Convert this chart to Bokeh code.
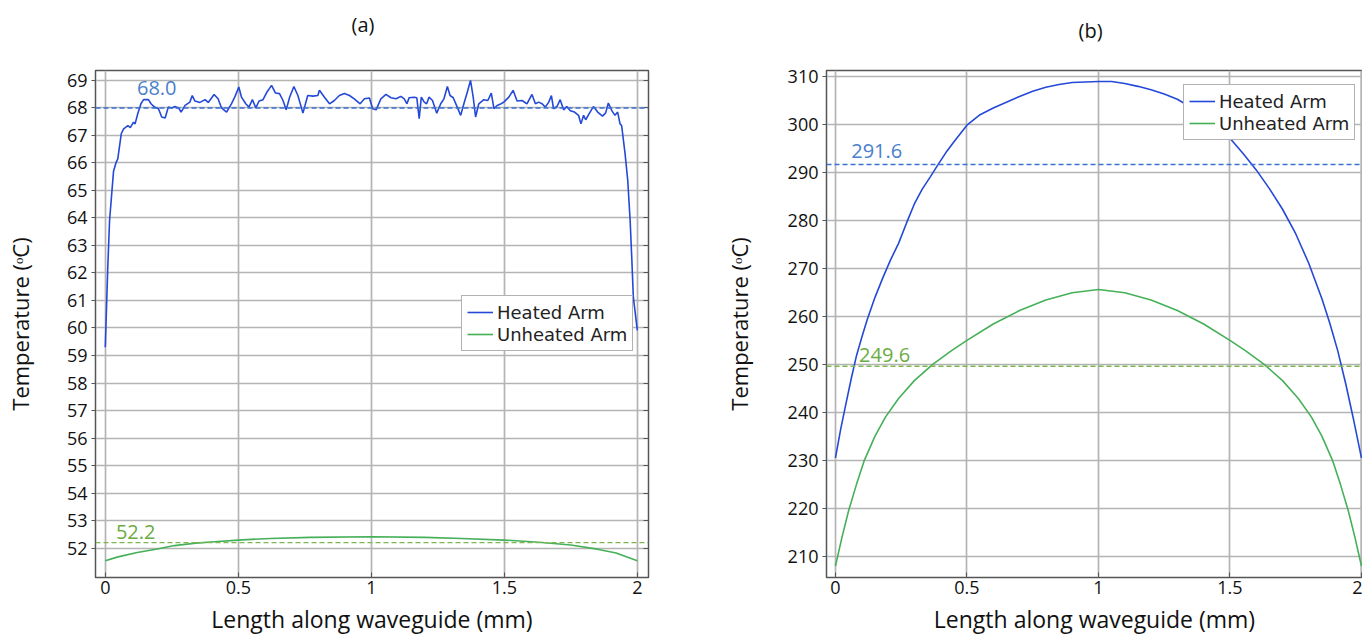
from bokeh.plotting import figure
from bokeh.models import Range1d, FixedTicker, LinearAxis, Span, Label, Legend, LegendItem, Title
from bokeh.layouts import row
from bokeh.embed import file_html
from bokeh.resources import INLINE

# ---------------- data ----------------
x_ticks = [0, 0.5, 1, 1.5, 2]
x_tick_labels = {0: "0", 0.5: "0.5", 1: "1", 1.5: "1.5", 2: "2"}
y_ticks_a = list(range(52, 70))
y_ticks_b = list(range(210, 311, 10))
panel_titles = ["(a)", "(b)"]

heated_a_x = [0.000, 0.009, 0.016, 0.031, 0.040, 0.047, 0.060, 0.069, 0.085, 0.094, 0.106, 0.112, 0.122, 0.134,
              0.144, 0.162, 0.172, 0.185, 0.200, 0.212, 0.225, 0.237, 0.250, 0.262, 0.275, 0.285, 0.300, 0.318,
              0.327, 0.337, 0.356, 0.375, 0.387, 0.409, 0.424, 0.437, 0.456, 0.474, 0.487, 0.502, 0.512, 0.528,
              0.540, 0.553, 0.566, 0.578, 0.593, 0.608, 0.625, 0.640, 0.655, 0.668, 0.680, 0.693, 0.709, 0.724,
              0.743, 0.761, 0.780, 0.799, 0.805, 0.824, 0.843, 0.861, 0.880, 0.899, 0.918, 0.936, 0.958, 0.974,
              0.993, 1.005, 1.018, 1.036, 1.055, 1.074, 1.093, 1.111, 1.124, 1.134, 1.142, 1.161, 1.171, 1.180,
              1.188, 1.199, 1.208, 1.217, 1.230, 1.246, 1.261, 1.273, 1.286, 1.296, 1.308, 1.323, 1.336, 1.348,
              1.361, 1.373, 1.383, 1.392, 1.404, 1.423, 1.438, 1.451, 1.461, 1.473, 1.488, 1.498, 1.517, 1.533,
              1.548, 1.567, 1.585, 1.604, 1.617, 1.629, 1.642, 1.654, 1.667, 1.677, 1.685, 1.698, 1.710, 1.723,
              1.735, 1.748, 1.764, 1.779, 1.788, 1.798, 1.806, 1.819, 1.835, 1.851, 1.869, 1.881, 1.891, 1.904,
              1.916, 1.926, 1.935, 1.941, 1.954, 1.964, 1.973, 1.979, 1.985, 2.000]
heated_a_y = [59.30, 62.10, 63.90, 65.70, 66.00, 66.15, 67.06, 67.24, 67.36, 67.28, 67.48, 67.42, 67.79, 68.15,
              68.30, 68.30, 68.15, 68.03, 67.97, 67.67, 67.63, 68.03, 68.00, 68.05, 68.00, 67.85, 68.09, 68.21,
              68.45, 68.25, 68.20, 68.30, 68.20, 68.49, 68.33, 68.00, 67.85, 68.15, 68.40, 68.76, 68.39, 68.15,
              68.03, 68.30, 68.00, 68.25, 68.30, 68.58, 68.82, 68.54, 68.52, 68.27, 67.93, 68.39, 68.78, 68.45,
              67.81, 68.45, 68.43, 68.45, 68.64, 68.39, 68.15, 68.27, 68.45, 68.52, 68.45, 68.33, 68.15, 68.33,
              68.36, 67.97, 67.93, 68.33, 68.49, 68.37, 68.33, 68.42, 68.33, 68.15, 68.37, 68.39, 68.37, 67.61,
              68.39, 68.21, 68.15, 68.39, 68.27, 67.81, 68.15, 68.33, 68.78, 68.45, 68.37, 68.03, 67.73, 68.15,
              68.58, 69.00, 68.39, 67.67, 68.15, 68.30, 68.27, 68.54, 67.97, 68.09, 68.15, 68.21, 68.39, 68.64,
              68.25, 68.27, 68.15, 68.49, 68.15, 68.21, 68.15, 68.03, 68.21, 68.45, 67.97, 68.05, 68.30, 67.93,
              68.05, 67.90, 67.85, 67.73, 67.42, 67.73, 67.57, 67.79, 68.05, 67.85, 67.70, 67.82, 68.18, 67.90,
              67.73, 67.85, 67.42, 67.36, 66.33, 65.36, 63.91, 62.57, 61.12, 59.91]

unheated_a_x = [0.0, 0.048, 0.12, 0.19, 0.26, 0.34, 0.41, 0.5, 0.62, 0.77, 1.0, 1.2, 1.34, 1.5, 1.63, 1.75,
                1.85, 1.92, 2.0]
unheated_a_y = [51.54, 51.68, 51.84, 51.96, 52.09, 52.18, 52.23, 52.29, 52.35, 52.39, 52.41, 52.39, 52.35,
                52.29, 52.21, 52.11, 51.96, 51.82, 51.54]

heated_b_x = [0.00, 0.02, 0.04, 0.06, 0.08, 0.10, 0.12, 0.15, 0.18, 0.21, 0.24, 0.27, 0.30, 0.33, 0.36, 0.39,
              0.42, 0.45, 0.50, 0.55, 0.60, 0.65, 0.70, 0.75, 0.80, 0.85, 0.90, 0.95, 1.00, 1.05, 1.10, 1.15,
              1.20, 1.25, 1.30, 1.35, 1.40, 1.45, 1.50, 1.55, 1.60, 1.65, 1.70, 1.75, 1.80, 1.85, 1.88, 1.91,
              1.94, 1.97, 2.00]
heated_b_y = [230.5, 236.5, 241.8, 247.0, 251.8, 255.6, 259.2, 263.9, 268.0, 271.8, 275.2, 279.4, 283.4, 286.5,
              289.0, 291.6, 294.1, 296.3, 299.8, 302.0, 303.4, 304.6, 305.8, 306.9, 307.7, 308.3, 308.7, 308.8,
              308.9, 308.9, 308.5, 307.9, 307.2, 306.3, 305.2, 303.6, 301.9, 299.8, 297.1, 293.9, 290.5, 286.6,
              282.3, 277.2, 271.0, 263.6, 258.5, 252.8, 246.0, 238.5, 230.5]

unheated_b_x = [0.000, 0.025, 0.05, 0.08, 0.11, 0.15, 0.19, 0.24, 0.30, 0.37, 0.44, 0.50, 0.60, 0.70, 0.80,
                0.90, 1.00, 1.10, 1.20, 1.30, 1.40, 1.50, 1.56, 1.63, 1.70, 1.76, 1.81, 1.85, 1.89, 1.92, 1.95,
                1.975, 2.000]
unheated_b_y = [208.0, 214.0, 219.5, 225.0, 230.0, 235.0, 239.0, 242.9, 246.6, 250.0, 252.8, 255.0, 258.4,
                261.2, 263.4, 264.9, 265.6, 264.9, 263.4, 261.2, 258.4, 255.0, 252.8, 250.0, 246.6, 242.9,
                239.0, 235.0, 230.0, 225.0, 219.5, 214.0, 208.0]

mean_a = [68.0, 52.2]
mean_b = [291.6, 249.6]
series_names = ["Heated Arm", "Unheated Arm"]

# ---------------- styles ----------------
BLUE = "#2449d8"
GREEN = "#45b058"
BLUE_D = "#3d72d2"
GREEN_D = "#7cb74f"
BLUE_T = "#4a7fcc"
GREEN_T = "#6aac44"
FONT = "Open Sans"


def style(p, yticks, label_standoff):
    p.xaxis.ticker = FixedTicker(ticks=x_ticks)
    p.xaxis.major_label_overrides = x_tick_labels
    p.yaxis.ticker = FixedTicker(ticks=yticks)
    p.xgrid.ticker = FixedTicker(ticks=x_ticks)
    p.ygrid.ticker = FixedTicker(ticks=yticks)
    for g in (p.xgrid, p.ygrid):
        g.grid_line_color = "#b4b4b4"
        g.grid_line_width = 1.7
    for ax in (p.xaxis, p.yaxis):
        ax.major_label_text_font = FONT
        ax.major_label_text_font_size = "18px"
        ax.major_label_text_color = "#111111"
        ax.axis_label_text_font = FONT
        ax.axis_label_text_font_style = "normal"
        ax.axis_label_text_color = "#111111"
        ax.axis_line_color = "#555555"
        ax.major_tick_line_color = "#555555"
        ax.minor_tick_line_color = None
    p.yaxis.major_tick_in = 0
    p.yaxis.major_tick_out = 4
    p.xaxis.major_tick_in = 5
    p.xaxis.major_tick_out = 0
    p.xaxis.axis_label = "Length along waveguide (mm)"
    p.yaxis.axis_label = "Temperature (ᵒC)"
    p.xaxis.axis_label_text_font_size = "23px"
    p.yaxis.axis_label_text_font_size = "22px"
    p.xaxis.major_label_standoff = 3
    p.xaxis.axis_label_standoff = 6
    p.yaxis.major_label_standoff = 4
    p.yaxis.axis_label_standoff = label_standoff
    p.outline_line_color = "#555555"
    p.outline_line_width = 1.5


def add_title(p, text, spacer_standoff, offset):
    # spacer nearest to the frame, then the panel caption further out
    p.add_layout(Title(text=" ", text_font_size="10px", standoff=spacer_standoff), "above")
    p.add_layout(Title(text=text, align="left", offset=offset, text_font=FONT, text_font_size="20px",
                       text_font_style="normal", text_color="#111111", standoff=0), "above")


def add_legend(p, r1, r2, loc):
    leg = Legend(items=[LegendItem(label=series_names[0], renderers=[r1]),
                        LegendItem(label=series_names[1], renderers=[r2])],
                 location=loc)
    leg.label_text_font = "DejaVu Sans"
    leg.label_text_font_size = "18px"
    leg.label_text_color = "#222222"
    leg.glyph_width = 26
    leg.glyph_height = 22
    leg.label_height = 22
    leg.label_standoff = 4
    leg.spacing = 0
    leg.padding = 5
    leg.margin = 0
    leg.border_line_color = "#666666"
    leg.border_line_width = 1.2
    leg.background_fill_alpha = 1.0
    p.add_layout(leg, "center")


# ---------------- panel (a) ----------------
p1 = figure(width=720, height=637, x_range=Range1d(-0.0368, 2.042), y_range=Range1d(50.93, 69.36),
            min_border_left=95, min_border_right=72, min_border_top=70, min_border_bottom=60,
            output_backend="svg", toolbar_location=None)
style(p1, y_ticks_a, 29)
ax_r = LinearAxis(ticker=FixedTicker(ticks=y_ticks_a), major_label_text_font_size="0px",
                  major_tick_in=5, major_tick_out=0, axis_line_color="#555555",
                  major_tick_line_color="#555555", minor_tick_line_color=None)
p1.add_layout(ax_r, "right")

p1.add_layout(Span(location=mean_a[0], dimension="width", line_color=BLUE_D, line_dash="5 3", line_width=1.5))
p1.add_layout(Span(location=mean_a[1], dimension="width", line_color=GREEN_D, line_dash="5 3", line_width=1.3))
ra1 = p1.line(heated_a_x, heated_a_y, line_color=BLUE, line_width=1.6)
ra2 = p1.line(unheated_a_x, unheated_a_y, line_color=GREEN, line_width=1.6)
p1.add_layout(Label(x=0.119, y=mean_a[0], y_offset=20, text=f"{mean_a[0]:.1f}", text_color=BLUE_T,
                    text_font=FONT, text_font_size="20px", text_baseline="alphabetic"))
p1.add_layout(Label(x=0.04, y=mean_a[1], y_offset=11, text=f"{mean_a[1]:.1f}", text_color=GREEN_T,
                    text_font=FONT, text_font_size="20px", text_baseline="alphabetic"))
add_legend(p1, ra1, ra2, (366, 226))
add_title(p1, panel_titles[0], 20, 256)

# ---------------- panel (b) ----------------
p2 = figure(width=642, height=637, x_range=Range1d(-0.034, 2.004), y_range=Range1d(205.6, 311.2),
            min_border_left=100, min_border_right=0, min_border_top=68, min_border_bottom=60,
            output_backend="svg", toolbar_location=None)
style(p2, y_ticks_b, 31)
p2.add_layout(Span(location=mean_b[0], dimension="width", line_color=BLUE_D, line_dash="5 3", line_width=1.5))
p2.add_layout(Span(location=mean_b[1], dimension="width", line_color=GREEN_D, line_dash="5 3", line_width=1.3))
rb1 = p2.line(heated_b_x, heated_b_y, line_color=BLUE, line_width=1.6)
rb2 = p2.line(unheated_b_x, unheated_b_y, line_color=GREEN, line_width=1.6)
p2.add_layout(Label(x=0.06, y=mean_b[0], y_offset=14, text=f"{mean_b[0]:.1f}", text_color=BLUE_T,
                    text_font=FONT, text_font_size="20px", text_baseline="alphabetic"))
p2.add_layout(Label(x=0.09, y=mean_b[1], y_offset=11, text=f"{mean_b[1]:.1f}", text_color=GREEN_T,
                    text_font=FONT, text_font_size="20px", text_baseline="alphabetic"))
add_legend(p2, rb1, rb2, (357, 437))
add_title(p2, panel_titles[1], 14, 252)

layout = row(p1, p2)
open("out.html", "w").write(file_html(layout, INLINE))
